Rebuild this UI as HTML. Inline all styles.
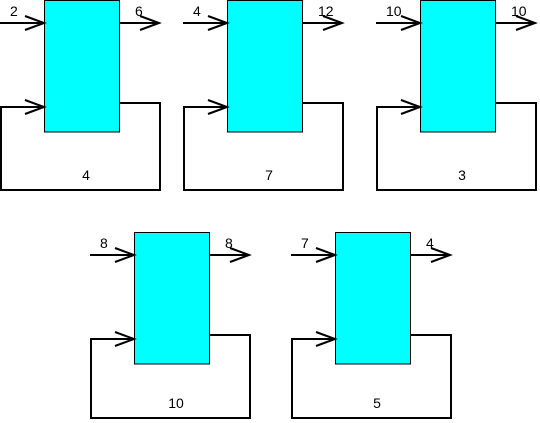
<!DOCTYPE html>
<html><head><meta charset="utf-8"><style>
html,body{margin:0;padding:0;background:#fff;width:540px;height:423px;overflow:hidden}
svg{display:block}
text{font-family:"Liberation Sans",sans-serif;font-size:14px;fill:#000}
</style></head><body>
<svg id="d" width="540" height="423"></svg>
<script>
const blockX = [0, 183, 376, 90, 291];
const blockY = [0, 0, 0, 232, 232];
const loopBottom = [190, 190, 190, 418, 418];
const inputLabels = ["2", "4", "10", "8", "7"];
const outputLabels = ["6", "12", "10", "8", "4"];
const loopLabels = ["4", "7", "3", "10", "5"];
const svg = document.getElementById('d');
const NS = 'http://www.w3.org/2000/svg';
function mk(tag, attrs, parent) {
  const e = document.createElementNS(NS, tag);
  for (const k in attrs) e.setAttribute(k, attrs[k]);
  (parent || svg).appendChild(e);
  return e;
}
for (let i = 0; i < blockX.length; i++) {
  const ox = blockX[i], oy = blockY[i], lb = loopBottom[i];
  const g = mk('g', {});
  
  
  const st = {stroke: '#000', 'stroke-width': 2, fill: 'none'};
  const loop = mk('polyline', Object.assign({points: `${ox+119},${oy+103} ${ox+160},${oy+103} ${ox+160},${lb} ${ox+1},${lb} ${ox+1},${oy+107} ${ox+44},${oy+107}`}, st), g);
  
  
  const rect = mk('rect', {x: ox+44.5, y: oy+0.5, width: 75, height: 131.5, fill: '#00ffff', stroke: '#000', 'stroke-width': 1}, g);
  
  
  const inl = mk('line', Object.assign({x1: ox, y1: oy+23, x2: ox+44, y2: oy+23}, st), g);
  
  
  mk('polyline', Object.assign({points: `${ox+25},${oy+16} ${ox+44},${oy+23} ${ox+25},${oy+30}`}, st), g);
  mk('polyline', Object.assign({points: `${ox+25},${oy+100} ${ox+44},${oy+107} ${ox+25},${oy+114}`}, st), g);
  const outl = mk('line', Object.assign({x1: ox+119, y1: oy+23, x2: ox+159, y2: oy+23}, st), g);
  
  
  mk('polyline', Object.assign({points: `${ox+140},${oy+16} ${ox+159},${oy+23} ${ox+140},${oy+30}`}, st), g);
  const t1 = mk('text', {x: ox+10, y: oy+16}, g); t1.textContent = inputLabels[i];
  
  
  const t2 = mk('text', {x: ox+135, y: oy+16}, g); t2.textContent = outputLabels[i];
  
  
  const t3 = mk('text', {x: ox+86, y: lb-10, 'text-anchor': 'middle'}, g); t3.textContent = loopLabels[i];
  
  
}
</script>
</body></html>
